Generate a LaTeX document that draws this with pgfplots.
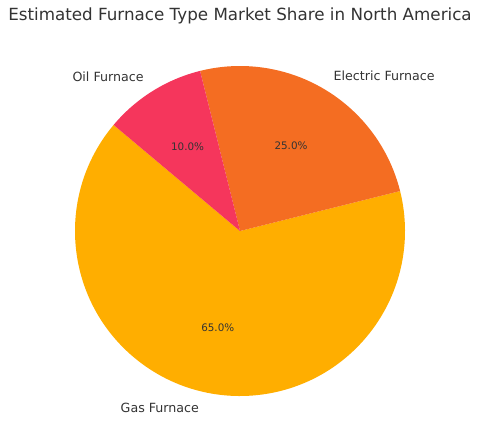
\documentclass[border=0pt]{standalone}
\usepackage{fontspec}
\setmainfont{DejaVu Sans}
\usepackage{pgfplots}
\pgfplotsset{compat=1.18}
\usetikzlibrary{calc}

\definecolor{gascol}{HTML}{FFAE00}
\definecolor{eleccol}{HTML}{F46D22}
\definecolor{oilcol}{HTML}{F5365C}
\definecolor{txt}{HTML}{333333}

% shares (percent), drawn counter-clockwise from 140 degrees
\def\gas{65}
\def\elec{25}
\def\oil{10}
\def\startang{140}
\def\rad{165}

\pgfmathsetmacro{\aA}{\startang}
\pgfmathsetmacro{\aB}{\aA+3.6*\gas}
\pgfmathsetmacro{\aC}{\aB+3.6*\elec}
\pgfmathsetmacro{\aD}{\aC+3.6*\oil}
\pgfmathsetmacro{\mA}{(\aA+\aB)/2}
\pgfmathsetmacro{\mB}{(\aB+\aC)/2}
\pgfmathsetmacro{\mC}{(\aC+\aD)/2}

\begin{document}
\begin{tikzpicture}
\begin{axis}[
    scale only axis,
    width=480bp, height=445bp,
    xmin=0, xmax=480, ymin=0, ymax=445,
    hide axis,
    clip=false,
]
% fix the page to the full canvas
\path (axis cs:0,0) rectangle (axis cs:480,445);
% pie centre at (240,214) in axis units (y up)
\fill[gascol]  (axis cs:240,214) -- ++(\aA:\rad bp) arc[start angle=\aA, end angle=\aB, radius=\rad bp] -- cycle;
\fill[eleccol] (axis cs:240,214) -- ++(\aB:\rad bp) arc[start angle=\aB, end angle=\aC, radius=\rad bp] -- cycle;
\fill[oilcol]  (axis cs:240,214) -- ++(\aC:\rad bp) arc[start angle=\aC, end angle=\aD, radius=\rad bp] -- cycle;

\node[text=txt, inner sep=0pt, font=\fontsize{12.7}{14}\selectfont, anchor=east] at ($(axis cs:240,214)+(\mA:1.1*\rad bp)$) {Gas Furnace};
\node[text=txt, inner sep=0pt, font=\fontsize{12.7}{14}\selectfont, anchor=west] at ($(axis cs:240,214)+(\mB:1.1*\rad bp)$) {Electric Furnace};
\node[text=txt, inner sep=0pt, font=\fontsize{12.7}{14}\selectfont, anchor=east] at ($(axis cs:240,214)+(\mC:1.1*\rad bp)$) {Oil Furnace};

\node[text=txt, font=\fontsize{10.4}{12}\selectfont] at ($(axis cs:240,214)+(\mA:0.6*\rad bp)$) {65.0\%};
\node[text=txt, font=\fontsize{10.4}{12}\selectfont] at ($(axis cs:240,214)+(\mB:0.6*\rad bp)$) {25.0\%};
\node[text=txt, font=\fontsize{10.4}{12}\selectfont] at ($(axis cs:240,214)+(\mC:0.6*\rad bp)$) {10.0\%};

\node[text=txt, font=\fontsize{16.8}{19}\selectfont] at (axis cs:240,429) {Estimated Furnace Type Market Share in North America};
\end{axis}
\end{tikzpicture}
\end{document}
